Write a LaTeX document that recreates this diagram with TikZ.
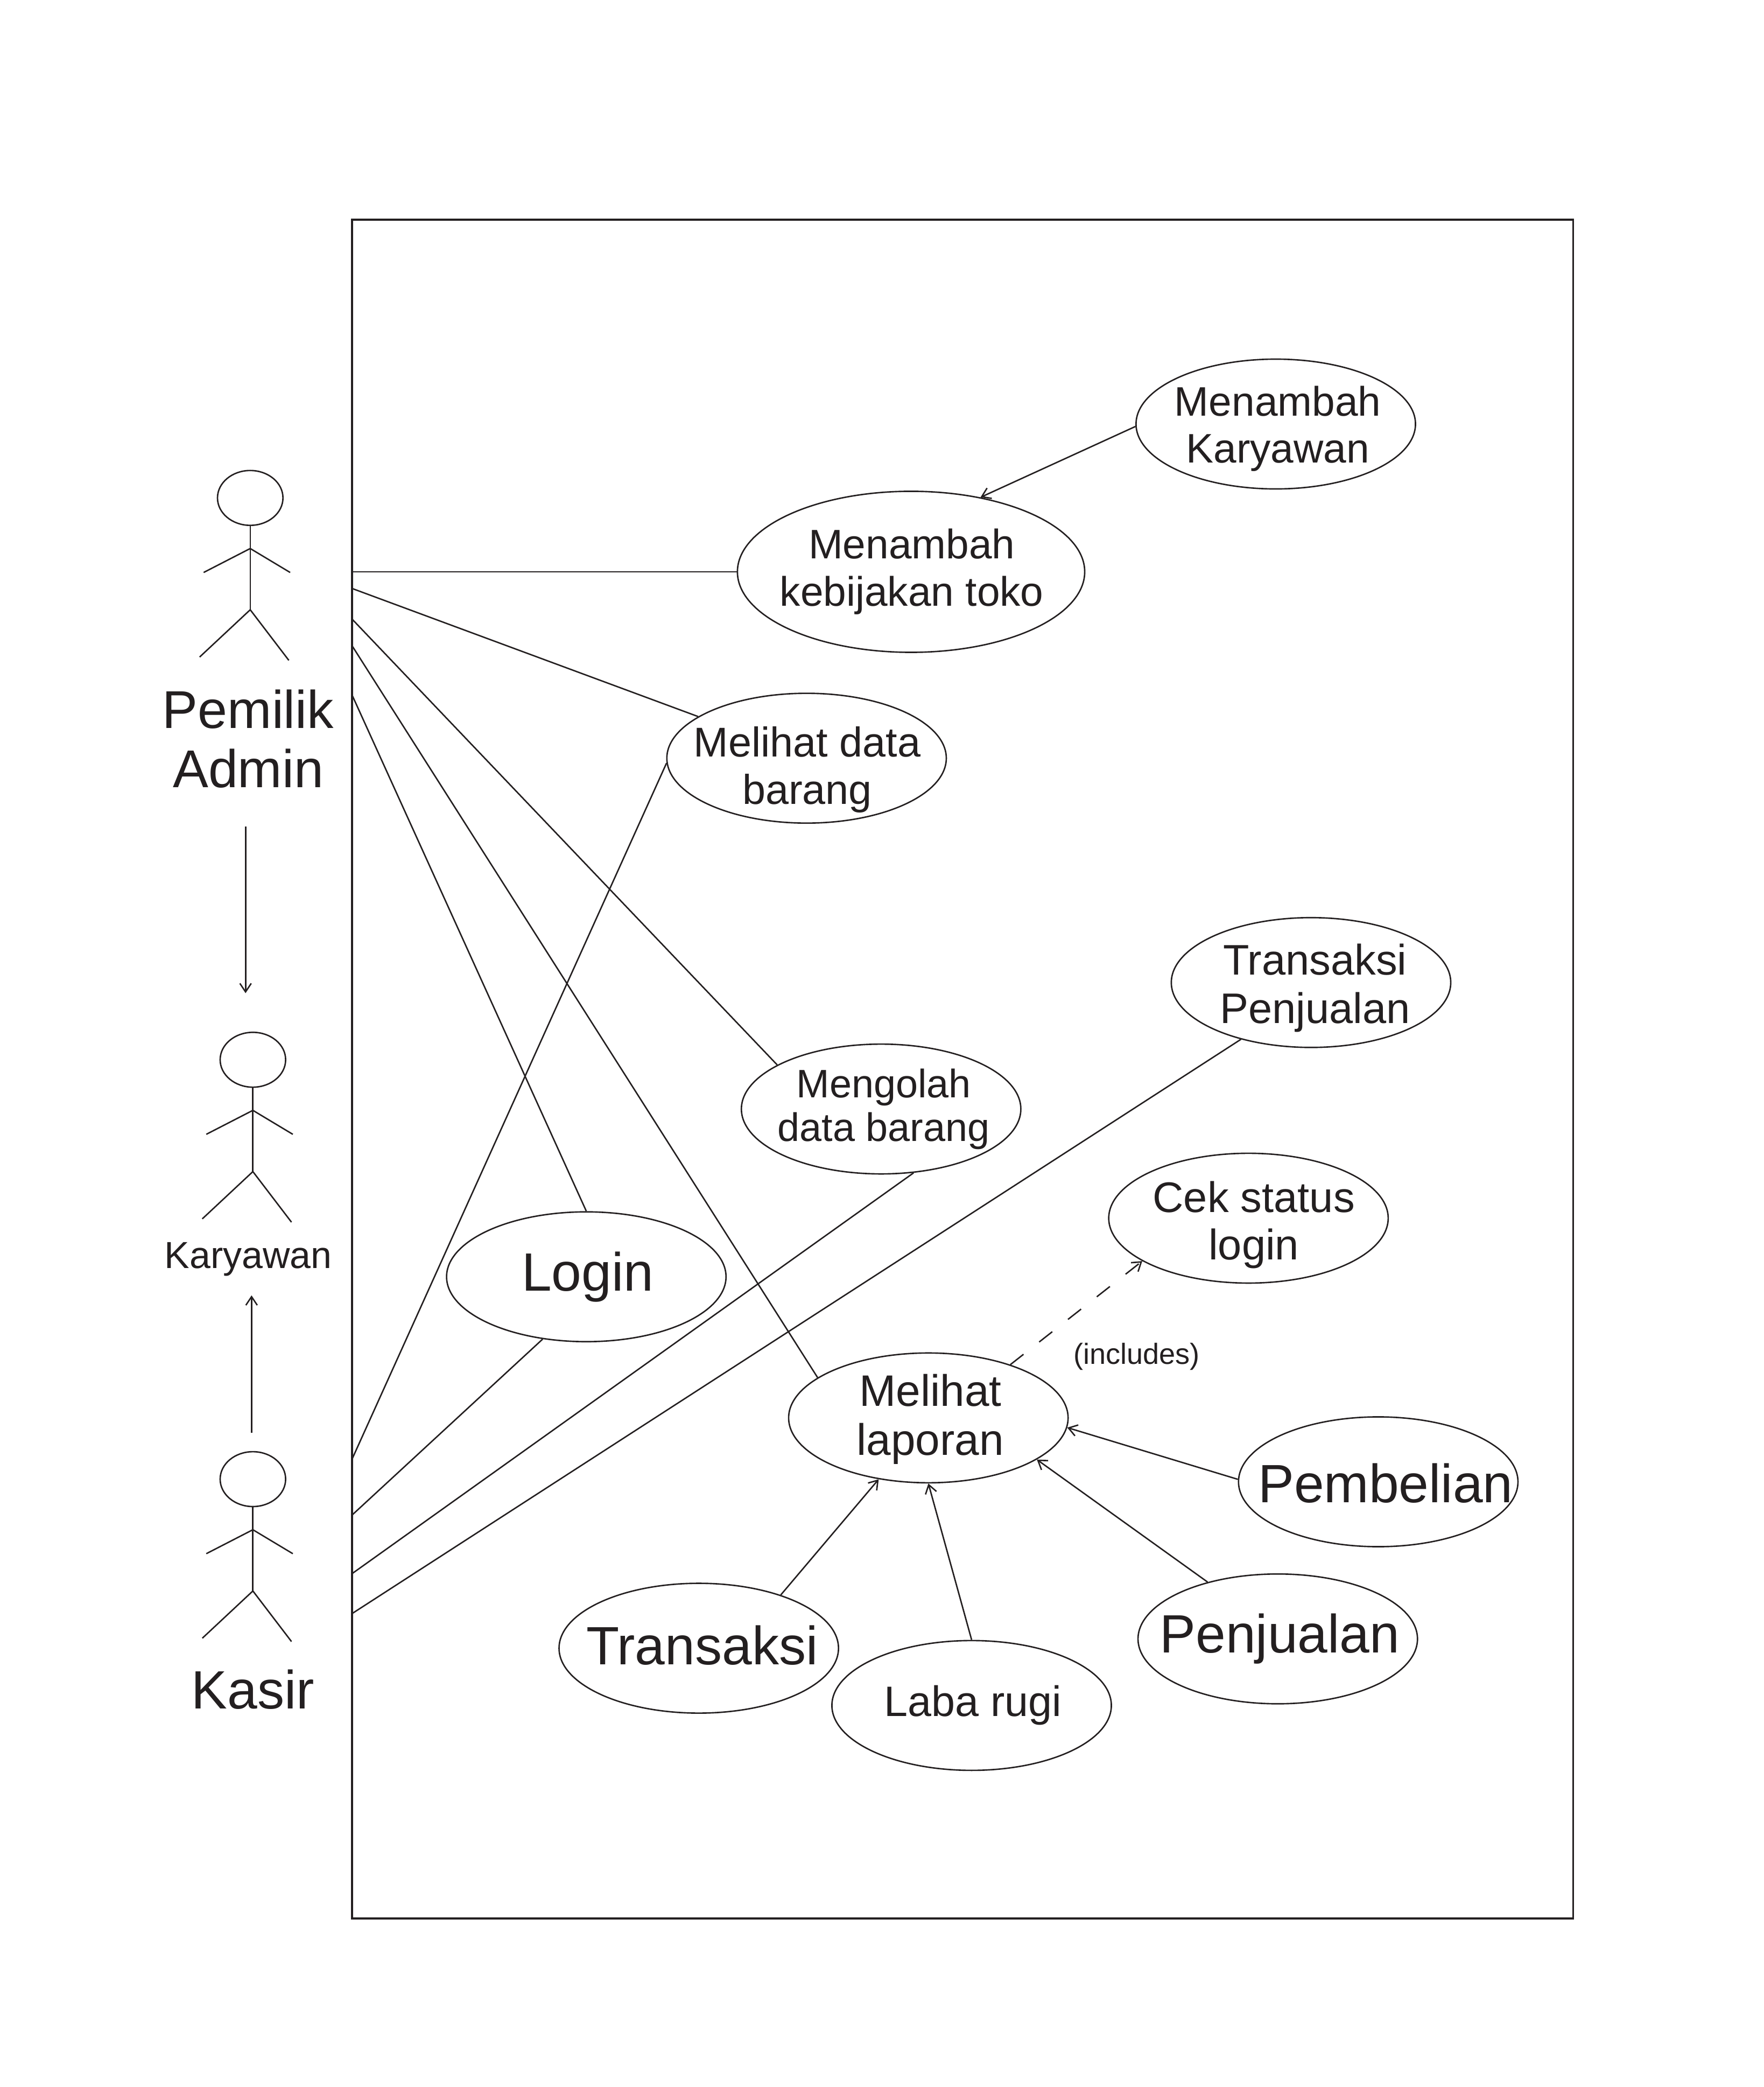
\documentclass[tikz,border=0pt]{standalone}
\usepackage{fontspec}
\setmainfont{Liberation Sans}
\usetikzlibrary{shapes,arrows,arrows.meta}

\definecolor{ink}{HTML}{231F20}

\tikzset{
  >={Straight Barb[length=4.5pt,width=6pt]},
  usecase/.style={draw=ink, line width=0.75pt, ellipse, inner sep=0pt, minimum width=5.19cm, minimum height=2.41cm},
  bigcase/.style={usecase, minimum width=6.45cm, minimum height=2.99cm},
  casetext/.style={text=ink, align=center, inner sep=0pt, font=\fontsize{22}{25}\selectfont},
  bigtext/.style={casetext, font=\fontsize{28.5}{31.5}\selectfont},
  wire/.style={draw=ink, line width=0.75pt},
  actor/.pic={
    \draw [wire] (0,0) ellipse [x radius=24.6, y radius=20.6];
    \draw [wire] (0,20.6) -- (0,84);
    \draw [wire] (-35,56) -- (0,38) -- (30,56);
    \draw [wire] (-38,119.5) -- (0,84) -- (29,122);
  }
}

\begin{document}
\begin{tikzpicture}[x=0.02472cm, y=-0.02472cm]
\useasboundingbox (0,0) rectangle (1325,1567.6);

\draw [draw=ink, line width=1pt] (264.5,165) rectangle (1182,1441);

% actors
\pic at (188,374) {actor};
\pic at (190,796) {actor};
\pic at (190,1111) {actor};

\node [bigtext, font=\fontsize{28.1}{31.5}\selectfont] (pemilik) at (186.5,555) {Pemilik\\Admin};
\node [casetext, font=\fontsize{19.9}{22}\selectfont] (karyawan) at (186.5,946) {Karyawan};
\node [bigtext] (kasir) at (190,1269) {Kasir};

% use cases
\node [usecase] (tambah) at (958.5,318.5) {};
\node [bigcase] (kebijakan) at (684.5,429.5) {};
\node [usecase] (lihatdata) at (606,569.5) {};
\node [usecase] (jual) at (985,738) {};
\node [usecase] (olah) at (662,833) {};
\node [usecase] (cek) at (938,915) {};
\node [usecase] (login) at (440.5,959) {};
\node [usecase] (laporan) at (697.5,1065) {};
\node [usecase] (pembelian) at (1035.5,1113) {};
\node [usecase] (penjualan) at (960,1231) {};
\node [usecase] (transaksi) at (525,1238) {};
\node [usecase] (laba) at (730,1281) {};

\node [casetext, font=\fontsize{21.8}{25}\selectfont] (tambahtext) at (960,322) {Menambah\\Karyawan};
\node [casetext, font=\fontsize{21.8}{25}\selectfont] (kebijakantext) at (685,429.5) {Menambah\\kebijakan toko};
\node [casetext] (lihatdatatext) at (606.5,578) {Melihat data\\barang};
\node [casetext, font=\fontsize{22.6}{25.5}\selectfont] (jualtext) at (988,742) {Transaksi\\Penjualan};
\node [casetext, font=\fontsize{21}{23}\selectfont] (olahtext) at (664,833) {Mengolah\\data barang};
\node [casetext, font=\fontsize{22.6}{25}\selectfont] (cektext) at (942,920) {Cek status\\login};
\node [bigtext] (logintext) at (441.5,959) {Login};
\node [casetext, font=\fontsize{23.3}{26}\selectfont] (laporantext) at (699,1066) {Melihat\\laporan};
\node [bigtext] (pembeliantext) at (1041,1114) {Pembelian};
\node [bigtext] (penjualantext) at (961.5,1231) {Penjualan};
\node [bigtext] (transaksitext) at (527.5,1236) {Transaksi};
\node [casetext, font=\fontsize{22.5}{25}\selectfont] (labatext) at (731,1281) {Laba rugi};
\node [casetext, font=\fontsize{15.4}{17}\selectfont] (includes) at (854,1019) {(includes)};

% free ends on the system box and between the actors
\coordinate (p1) at (264.5,429.5);
\coordinate (p2) at (264.5,442);
\coordinate (p3) at (264.5,465);
\coordinate (p4) at (264.5,485);
\coordinate (p5) at (264.5,522);
\coordinate (k1) at (264.5,1096);
\coordinate (k2) at (264.5,1138);
\coordinate (k3) at (264.5,1182);
\coordinate (k4) at (264.5,1212);
\coordinate (a1) at (184.5,621);
\coordinate (a2) at (184.5,746);
\coordinate (a3) at (189,1076);
\coordinate (a4) at (189,973);

\draw [wire] (p1) -- (kebijakan.west);
\draw [wire] (p2) -- (lihatdata.159);
\draw [wire] (p3) -- (olah.157);
\draw [wire] (p4) -- (laporan.160);
\draw [wire] (p5) -- (login.90);
\draw [wire] (k1) -- (lihatdata.182);
\draw [wire] (k2) -- (login.235);
\draw [wire] (k3) -- (olah.297);
\draw [wire] (k4) -- (jual.219);

\draw [wire, ->] (a1) -- (a2);
\draw [wire, ->] (a3) -- (a4);

\draw [wire, ->] (tambah.181) -- (kebijakan.47);
\draw [wire, ->, dash pattern=on 0.31cm off 0.37cm] (laporan.33) -- (cek.202);
\draw [wire, ->] (pembelian.179) -- (laporan.356);
\draw [wire, ->] (penjualan.141) -- (laporan.339);
\draw [wire, ->] (transaksi.33) -- (laporan.231);
\draw [wire, ->] (laba.90) -- (laporan.270);

\end{tikzpicture}
\end{document}
